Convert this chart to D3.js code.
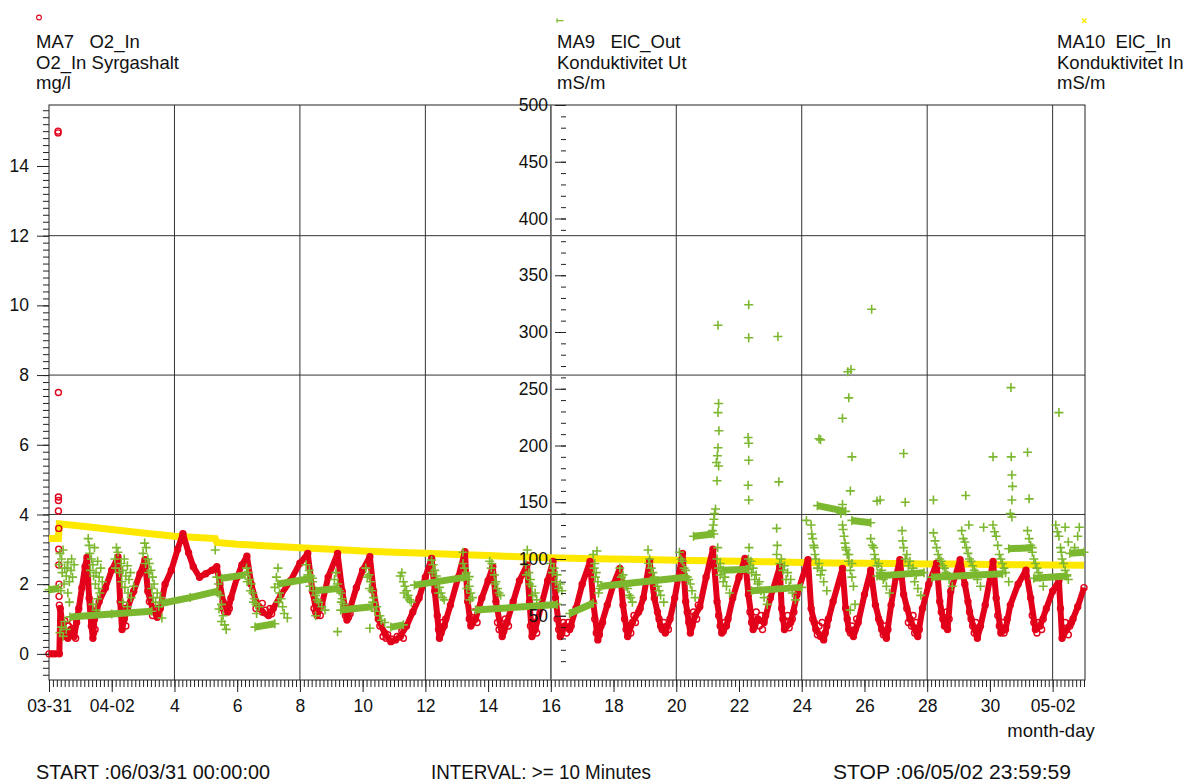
<!DOCTYPE html>
<html>
<head>
<meta charset="utf-8">
<script src="https://d3js.org/d3.v7.min.js"></script>
<style>
body { margin: 0; background: #fff; }
text { font-family: "Liberation Sans", Arial, sans-serif; font-size: 18.5px; fill: #111; }
.axis path { display: none; }
</style>
</head>
<body>
<svg width="1198" height="783"></svg>
<script>
// day = days after 06-03-31 00:00
const dayTicks = d3.range(0, 33, 2)
const dayTickLabels = ["03-31","04-02","4","6","8","10","12","14","16","18","20","22","24","26","28","30","05-02"]
const o2Ticks = [0, 2, 4, 6, 8, 10, 12, 14]
const condTicks = [50, 100, 150, 200, 250, 300, 350, 400, 450, 500]
const gridDays = [4, 8, 12, 16, 20, 24, 28, 32]
const gridO2 = [4, 8, 12]

const headers = [
  ["MA7   O2_In", "O2_In Syrgashalt", "mg/l"],
  ["MA9   ElC_Out", "Konduktivitet Ut", "mS/m"],
  ["MA10  ElC_In", "Konduktivitet In", "mS/m"]
]
const footer = ["START :06/03/31 00:00:00", "INTERVAL: >= 10 Minutes", "STOP :06/05/02 23:59:59"]

// MA7 O2_In (mg/l), start-up spike
const o2Spike = [[0.29,15],[0.29,14.95],[0.3,7.5],[0.3,4.5],[0.3,4.4],[0.3,4.1],[0.31,3.6],[0.31,3.0],[0.31,2.55],[0.32,2.0],[0.32,1.65],[0.33,1.4]]

// MA7 O2_In (mg/l), main trace
const o2In = [
  [0,0],[0.1,0],[0.2,0],[0.33,0],
  [0.36,1.3],[0.42,0.9],[0.5,0.6],[0.6,0.45],[0.7,0.7],[0.8,0.5],[0.88,0.9],
  [0.95,1.3],[1.05,1.9],[1.15,2.5],[1.21,2.77],
  [1.28,1.6],[1.35,0.8],[1.4,0.45],[1.45,1.0],
  [1.6,1.5],[1.8,1.9],[2.0,2.4],[2.2,2.78],
  [2.27,1.5],[2.33,0.7],[2.4,1.0],[2.5,1.3],
  [2.7,1.8],[2.9,2.3],[3.06,2.7],
  [3.15,1.8],[3.3,1.3],[3.45,1.05],[3.55,1.3],
  [3.7,2.0],[3.9,2.4],[4.1,3.0],[4.27,3.45],
  [4.45,2.9],[4.6,2.5],[4.8,2.2],[5.0,2.3],[5.2,2.4],[5.35,2.5],
  [5.45,2.0],[5.55,1.5],[5.7,1.2],[5.8,1.6],
  [6.0,2.2],[6.15,2.55],[6.31,2.8],
  [6.45,2.0],[6.6,1.5],[6.8,1.2],[7.0,1.1],[7.15,1.3],
  [7.4,1.7],[7.7,2.1],[8.0,2.6],[8.25,2.88],
  [8.4,1.8],[8.55,1.1],[8.7,1.4],
  [8.9,2.2],[9.2,2.88],
  [9.35,1.8],[9.5,0.97],[9.6,1.3],
  [9.8,1.9],[10.0,2.4],[10.23,2.79],
  [10.35,1.8],[10.5,1.0],[10.7,0.6],[10.9,0.35],[11.05,0.4],[11.2,0.5],[11.4,0.8],
  [11.6,1.2],[11.8,1.6],[12.0,2.2],[12.2,2.74],
  [12.3,1.8],[12.45,0.45],[12.6,0.8],
  [12.8,1.4],[13.05,2.2],[13.26,2.93],
  [13.35,1.5],[13.45,0.8],[13.6,1.0],
  [13.8,1.6],[14.0,2.1],[14.15,2.5],
  [14.25,1.5],[14.45,0.5],[14.6,0.9],
  [14.8,1.5],[15.0,2.1],[15.24,2.55],
  [15.32,1.5],[15.4,0.5],[15.5,0.7],
  [15.7,1.4],[15.9,2.1],[16.07,2.65],
  [16.15,1.6],[16.3,0.5],[16.45,0.8],[16.6,0.7],
  [16.8,1.3],[17.0,2.0],[17.25,2.65],
  [17.35,1.5],[17.5,0.4],[17.6,0.8],
  [17.8,1.4],[18.0,2.0],[18.2,2.45],
  [18.3,1.4],[18.45,0.5],[18.6,0.9],[18.8,1.2],
  [18.95,1.6],[19.15,2.65],
  [19.3,1.6],[19.5,0.8],[19.65,0.6],[19.8,1.0],
  [19.95,1.6],[20.2,2.88],
  [20.3,1.5],[20.45,0.6],[20.6,1.1],[20.75,1.35],
  [20.95,2.2],[21.17,3.0],
  [21.3,1.5],[21.45,0.6],[21.6,0.8],
  [21.8,1.6],[22.0,2.2],[22.19,2.74],
  [22.3,1.7],[22.45,0.7],[22.6,1.0],[22.8,0.9],
  [23.0,1.6],[23.3,2.5],
  [23.36,1.3],[23.45,0.7],[23.65,0.9],
  [23.85,1.7],[24.2,2.7],
  [24.3,1.3],[24.45,0.7],[24.7,0.4],[24.8,0.8],
  [25.0,1.5],[25.3,2.45],
  [25.4,1.3],[25.5,0.7],[25.65,0.5],[25.8,0.9],
  [26.0,1.7],[26.2,2.4],
  [26.35,1.4],[26.55,0.7],[26.7,0.45],
  [26.85,1.4],[27.0,2.2],[27.13,2.7],
  [27.25,1.7],[27.45,1.0],[27.7,0.5],
  [27.85,1.3],[28.05,2.0],[28.3,2.6],
  [28.4,1.5],[28.55,0.8],[28.65,0.7],
  [28.75,1.8],[29.05,2.7],
  [29.2,2.0],[29.4,1.0],[29.6,0.45],[29.7,0.8],
  [29.85,1.4],[30.1,2.65],
  [30.2,1.6],[30.35,0.6],[30.5,0.7],
  [30.65,1.4],[30.9,2.0],[31.15,2.4],
  [31.3,1.6],[31.45,0.7],[31.6,0.8],[31.8,1.3],
  [32.0,1.8],[32.2,2.1],
  [32.25,1.3],[32.3,0.45],[32.45,0.7],[32.6,0.9],
  [32.8,1.35],[33.0,1.9]
]

// MA7 O2_In (mg/l), readings clustered in the daily lows
const o2Lows = [
  [0.4,0.5],[0.45,0.8],[0.5,0.95],[0.55,0.5],[0.62,0.8],[0.68,0.55],[0.75,0.9],[0.8,0.65],[0.85,0.45],
  [1.33,1.3],[1.38,1.2],[1.42,0.6],[1.47,0.7],[1.5,1.2],
  [2.3,1.2],[2.35,0.9],[2.42,1.3],[2.45,0.8],
  [3.2,1.5],[3.3,1.1],[3.38,1.25],[3.45,1.3],[3.5,1.15],
  [5.55,1.3],[5.6,1.2],[5.65,1.4],[5.75,1.3],
  [6.6,1.3],[6.7,1.35],[6.8,1.45],[6.9,1.25],[7.05,1.3],[7.1,1.15],
  [8.45,1.3],[8.5,1.2],[8.6,1.25],[8.65,1.1],
  [9.4,1.3],[9.45,1.1],[9.55,1.05],[9.6,1.15],
  [10.55,0.8],[10.65,0.5],[10.75,0.45],[10.8,0.55],[10.95,0.42],[11.1,0.5],[11.25,0.65],[11.3,0.45],
  [12.38,1.1],[12.42,0.7],[12.5,0.6],[12.55,0.9],[12.65,1.0],
  [13.4,1.0],[13.5,0.9],[13.55,1.2],[13.65,0.9],
  [14.3,0.9],[14.35,0.7],[14.4,0.8],[14.5,0.65],[14.55,1.0],[14.65,0.8],
  [15.35,0.8],[15.45,0.65],[15.5,0.9],[15.55,0.6],
  [16.2,1.0],[16.25,0.7],[16.35,0.6],[16.4,0.9],[16.5,0.6],[16.55,0.9],[16.65,0.8],
  [17.4,1.0],[17.45,0.6],[17.55,0.55],[17.65,0.9],
  [18.35,1.0],[18.4,0.7],[18.5,0.8],[18.55,0.6],[18.65,1.1],[18.7,0.9],[18.85,1.3],
  [19.4,1.2],[19.45,1.0],[19.55,0.7],[19.6,0.9],[19.7,0.8],[19.75,0.7],
  [20.35,1.2],[20.4,0.9],[20.5,0.8],[20.55,1.2],[20.65,1.0],[20.7,1.4],
  [21.35,1.1],[21.4,0.8],[21.5,0.65],[21.55,0.9],[21.65,1.0],
  [22.35,1.2],[22.4,0.9],[22.5,0.8],[22.55,1.2],[22.65,0.8],[22.7,1.1],[22.75,0.7],[22.85,1.1],
  [23.4,1.0],[23.5,0.9],[23.55,1.1],[23.6,0.75],[23.7,1.0],[23.75,1.2],
  [24.35,1.0],[24.4,0.9],[24.5,0.55],[24.55,0.8],[24.6,0.5],[24.65,0.9],[24.75,0.6],[24.85,1.0],
  [25.45,1.0],[25.55,0.6],[25.6,0.8],[25.7,0.7],[25.75,1.0],
  [26.45,1.0],[26.5,0.9],[26.6,0.55],[26.65,0.8],[26.75,0.7],
  [27.35,1.3],[27.4,0.9],[27.5,0.8],[27.55,1.1],[27.6,0.6],[27.65,0.9],[27.75,0.7],
  [28.45,1.2],[28.5,1.0],[28.6,0.9],[28.62,1.2],[28.7,1.0],
  [29.3,1.5],[29.35,1.2],[29.45,0.8],[29.5,0.6],[29.55,0.9],[29.65,0.7],
  [30.25,1.1],[30.3,0.8],[30.4,0.9],[30.45,0.6],[30.55,1.0],
  [31.35,1.1],[31.4,0.9],[31.5,0.6],[31.55,0.9],[31.65,0.7],[31.7,1.0],
  [32.35,0.6],[32.4,0.9],[32.5,0.55],[32.55,0.8],[32.65,1.0]
]

// MA9 ElC_Out (mS/m), dense baseline runs; null separates runs
const elcOutBase = [
  [0,73],[0.3,74],[0,null],
  [0.67,49],[2,51.5],[3.28,54],[0,null],
  [3.6,61],[4.5,66],[5.35,71.5],[0,null],
  [5.5,83],[6.25,86],[0,null],
  [6.57,40],[7.2,43],[0,null],
  [7.3,78],[8.4,83],[0,null],
  [8.5,72],[9.2,74],[0,null],
  [9.3,55],[10.3,58],[0,null],
  [10.9,40],[11.3,42],[0,null],
  [11.65,77],[13.4,84.5],[0,null],
  [13.6,55],[16.2,60],[0,null],
  [16.6,52],[17.35,61],[0,null],
  [17.6,76],[20.3,84],[0,null],
  [20.55,120],[21.2,122],[0,null],
  [21.5,90],[22.3,91],[0,null],
  [22.4,72],[24.0,75],[0,null],
  [24.5,147],[25.4,142],[0,null],
  [25.6,134],[26.2,132],[0,null],
  [26.4,85],[27.9,88],[0,null],
  [28.15,84],[30.4,87],[0,null],
  [30.6,109],[31.35,110],[0,null],
  [31.4,83],[32.45,85],[0,null],
  [32.55,105],[33,106]
]

// MA9 ElC_Out (mS/m), scattered readings
const elcOutScatter = [
  [0.32,95],[0.35,105],[0.4,100],[0.42,88],[0.45,108],[0.5,92],[0.55,85],[0.6,97],[0.65,80],[0.7,90],[0.75,84],
  [0.35,35],[0.4,40],[0.45,32],[0.5,45],[0.55,38],[0.6,70],[0.65,62],
  [1.25,118],[1.28,112],[1.3,105],[1.35,100],[1.4,95],[1.45,110],[1.5,88],[1.55,98],[1.6,84],[1.65,92],[1.7,80],[1.4,60],[1.5,55],[1.55,65],
  [2.1,100],[2.15,110],[2.2,106],[2.3,96],[2.35,90],[2.4,100],[2.45,85],[2.5,94],[2.55,82],[2.6,88],[2.7,76],[2.35,62],[2.5,58],
  [3.0,105],[3.05,114],[3.1,110],[3.15,100],[3.2,96],[3.25,90],[3.3,84],[3.35,78],[3.45,70],[3.55,66],[3.5,58],[3.6,48],
  [5.3,108],[5.35,84],[5.4,78],[5.45,68],[5.5,60],[5.55,50],[5.6,42],[5.65,38],
  [6.3,92],[6.35,88],[6.4,82],[6.45,78],[6.5,70],[6.55,65],[6.6,60],[6.7,58],
  [7.3,92],[7.2,75],[7.35,70],[7.4,65],[7.5,52],[7.6,48],
  [8.2,95],[8.3,90],[8.35,85],[8.4,80],[8.5,68],[8.6,62],[8.7,58],[8.8,55],[8.5,50],
  [9.1,82],[9.2,78],[9.3,70],[9.35,65],[9.4,60],[9.2,36],
  [10.1,92],[10.2,86],[10.25,80],[10.3,72],[10.35,66],[10.45,58],[10.55,50],[10.6,46],[10.7,44],[10.23,39],
  [11.2,85],[11.3,80],[11.35,76],[11.4,72],[11.45,68],[11.5,64],[11.55,62],
  [12.2,99],[12.25,95],[12.3,90],[12.35,85],[12.4,80],[12.45,75],[12.5,70],[12.55,66],[12.6,64],
  [13.2,106],[13.2,96],[13.25,92],[13.3,88],[13.35,82],[13.4,76],[13.45,70],[13.5,66],
  [14.05,98],[14.1,92],[14.2,86],[14.25,80],[14.3,74],[14.4,68],
  [15.25,108],[15.2,95],[15.3,88],[15.35,82],[15.4,76],[15.5,70],[15.55,64],
  [16.0,96],[16.1,92],[16.2,86],[16.3,78],[16.35,72],
  [17.47,107],[17.35,104],[17.4,96],[17.45,88],[17.5,80],[17.55,74],
  [18.2,92],[18.3,86],[18.35,80],[18.45,74],[18.5,68],[18.6,62],
  [19.1,108],[19.15,100],[19.2,92],[19.3,84],[19.4,76],[19.5,68],[19.6,62],
  [20.1,106],[20.2,98],[20.3,90],[20.4,82],[20.5,72],[20.6,66],
  [21.15,125],[21.18,130],[21.2,135],[21.22,140],[21.25,144],
  [21.3,100],[21.35,92],[21.4,86],[21.5,80],[21.6,76],[21.7,70],
  [22.3,100],[22.35,94],[22.4,88],[22.5,82],[22.6,78],[22.7,72],[22.8,66],[22.9,60],
  [23.2,104],[23.3,96],[23.4,90],[23.5,82],[23.6,76],[23.7,70],[23.8,64],
  [24.3,130],[24.35,118],[24.4,110],[24.45,100],[24.5,92],[24.6,86],[24.7,80],[24.8,72],
  [25.25,140],[25.3,130],[25.35,120],[25.4,110],[25.45,104],[25.5,98],[25.55,90],[25.6,84],[25.65,76],[25.7,60],[25.55,55],
  [26.2,118],[26.3,110],[26.35,100],[26.4,94],[26.5,88],[26.6,82],[26.7,76],[26.8,70],
  [27.2,125],[27.25,110],[27.3,100],[27.4,94],[27.5,88],[27.6,80],[27.7,74],[27.8,68],
  [28.2,123],[28.3,110],[28.4,100],[28.5,94],[28.6,88],[28.7,82],[28.8,76],
  [29.1,125],[29.2,115],[29.3,105],[29.4,98],[29.5,90],[29.6,82],[29.7,76],
  [30.1,130],[30.2,120],[30.3,104],[30.4,96],[30.5,88],[30.6,80],
  [30.65,140],[30.7,152],[30.72,164],[30.7,174],
  [31.2,125],[31.3,112],[31.4,100],[31.5,92],[31.6,84],[31.7,76],
  [32.1,130],[32.2,120],[32.25,110],[32.3,100],[32.4,90],[32.5,82],
  [32.7,110],[32.8,120],[32.85,128],
  [21.33,306],[21.35,237],[21.33,229],[21.36,213],[21.33,198],[21.31,191],[21.28,185],[21.35,182],[21.3,169],
  [22.31,324],[22.31,295],[22.29,207],[22.31,202],[22.31,187],[22.29,165],[22.31,152],
  [23.24,296],[23.27,168],[23.2,127],[24.15,134],[24.6,205],[24.55,206],
  [25.3,224],[25.47,265],[25.57,267],[25.5,242],[25.6,190],[25.55,160],[25.3,148],
  [26.23,320],[26.4,151],[26.5,152],[27.25,193],[27.3,150],[28.2,152],
  [29.23,156],[29.33,130],[29.8,128],[30.1,190],[30.67,251],[30.68,190],[30.7,137],
  [31.2,194],[31.25,153],[32.2,229],[32.4,128],[32.5,115]
]

// MA9 ElC_Out (mS/m), more readings inside the daily clusters
const elcOutCluster = [
  [0.38,72],[0.48,78],[0.58,92],[0.72,100],[0.8,95],
  [1.32,90],[1.42,85],[1.48,78],[1.58,74],[1.62,70],
  [2.12,92],[2.25,88],[2.32,80],[2.42,75],[2.52,70],[2.62,66],
  [3.08,96],[3.18,88],[3.28,74],[3.32,66],[3.4,62],
  [5.38,70],[5.42,56],[5.5,45],
  [6.32,80],[6.42,72],[6.52,62],[6.62,52],
  [7.25,84],[7.32,62],[7.45,58],
  [8.25,86],[8.32,76],[8.42,72],[8.55,64],
  [9.15,88],[9.25,72],[9.32,62],
  [10.15,84],[10.22,74],[10.32,62],[10.4,54],
  [11.25,88],[11.32,70],[11.42,66],
  [12.22,88],[12.32,78],[12.42,70],
  [13.22,84],[13.32,74],[13.42,64],
  [14.12,96],[14.22,78],[14.35,70],
  [15.22,86],[15.32,78],[15.42,68],
  [16.05,88],[16.15,80],[16.25,74],
  [17.38,92],[17.42,84],[17.52,70],
  [18.25,84],[18.4,76],[18.55,66],
  [19.12,96],[19.25,88],[19.35,80],[19.45,72],
  [20.15,100],[20.25,92],[20.35,84],[20.45,78],
  [21.32,110],[21.4,96],[21.45,90],[21.55,84],
  [22.32,110],[22.38,98],[22.45,92],[22.55,86],[22.65,80],
  [23.22,112],[23.35,100],[23.45,94],[23.55,88],[23.65,82],
  [24.32,122],[24.38,112],[24.42,104],[24.55,96],[24.65,90],
  [25.32,126],[25.38,114],[25.42,108],[25.5,104],[25.6,96],
  [26.25,112],[26.32,104],[26.45,96],[26.55,90],[26.65,84],
  [27.22,116],[27.35,104],[27.45,98],[27.55,92],[27.65,86],
  [28.25,116],[28.35,104],[28.45,98],[28.55,92],[28.65,86],
  [29.15,118],[29.25,110],[29.35,100],[29.45,94],[29.55,88],
  [30.15,124],[30.25,112],[30.35,100],[30.45,92],
  [31.25,118],[31.35,106],[31.45,96],[31.55,88],
  [32.15,124],[32.28,106],[32.35,96],[32.45,86]
]

// MA10 ElC_In (mS/m)
const elcIn = [
  [0,118],[0.3,118],[0.33,131],[1,129],[2,126],[3,123],[4,120],[5,118.5],[5.3,118],[5.35,114.5],
  [6,113],[7,111.5],[8,110],[9,108.5],[10,107],[11,106],[12,105],[13,104],[14,103],[15,102],
  [16,101],[17,100.5],[18,100],[19,99.5],[20,99],[21,98.5],[22,98],[23,97.5],[24,97],[25,96.5],
  [26,96.2],[27,96],[28,95.7],[29,95.5],[30,95.2],[31,95],[32,94.8],[33,94.6]
]

const red = "#e2001a", green = "#7cb82f", yellow = "#ffe800"
const svg = d3.select("svg")

const x = d3.scaleLinear().domain([0, 33]).range([49, 1084])
const yL = d3.scaleLinear().domain([-0.75, 15.75]).range([680, 105])
const yM = d3.scaleLinear().domain([-6.6, 500]).range([680, 105])

// grid
svg.append("g").selectAll("line").data(gridDays).join("line")
  .attr("x1", d => x(d)).attr("x2", d => x(d)).attr("y1", 105).attr("y2", 680)
  .attr("stroke", "#333")
svg.append("g").selectAll("line").data(gridO2).join("line")
  .attr("x1", 49).attr("x2", 1085).attr("y1", d => yL(d)).attr("y2", d => yL(d))
  .attr("stroke", "#333")
svg.append("rect").attr("x", 49).attr("y", 105).attr("width", 1036).attr("height", 575)
  .attr("fill", "none").attr("stroke", "#222")
svg.append("line").attr("x1", x(16)).attr("x2", x(16)).attr("y1", 105).attr("y2", 680)
  .attr("stroke", "#666").attr("stroke-width", 1.6)

// MA10 yellow band
svg.append("path").datum(elcIn)
  .attr("d", d3.line().x(d => x(d[0])).y(d => yM(d[1])))
  .attr("fill", "none").attr("stroke", yellow).attr("stroke-width", 7)

// MA7 red
svg.append("path").datum(o2In)
  .attr("d", d3.line().x(d => x(d[0])).y(d => yL(d[1])))
  .attr("fill", "none").attr("stroke", red).attr("stroke-width", 6).attr("stroke-linejoin", "round")
svg.append("g").selectAll("circle").data(o2In.concat(o2Lows, o2Spike)).join("circle")
  .attr("cx", d => x(d[0])).attr("cy", d => yL(d[1])).attr("r", 3)
  .attr("fill", "none").attr("stroke", red).attr("stroke-width", 1.4)

// MA9 green
const plus = "M-4.5,0H4.5M0,-4.5V4.5"
svg.append("path").datum(elcOutBase)
  .attr("d", d3.line().defined(d => d[1] != null).x(d => x(d[0])).y(d => yM(d[1])))
  .attr("fill", "none").attr("stroke", green).attr("stroke-width", 7)
svg.append("g").selectAll("path")
  .data(elcOutBase.filter(d => d[1] != null).concat(elcOutScatter, elcOutCluster)).join("path")
  .attr("d", plus).attr("transform", d => `translate(${x(d[0])},${yM(d[1])})`)
  .attr("stroke", green).attr("stroke-width", 1.6)

// left axis
svg.append("g").attr("class", "axis").attr("transform", "translate(49,0)")
  .call(d3.axisLeft(yL).tickValues(d3.range(-3, 79).map(i => i * 0.2)).tickSize(6).tickFormat(""))
svg.append("g").attr("class", "axis").attr("transform", "translate(49,0)")
  .call(d3.axisLeft(yL).tickValues(o2Ticks).tickSize(12).tickPadding(8))

// middle axis
svg.append("g").attr("class", "axis").attr("transform", "translate(566,0)")
  .call(d3.axisLeft(yM).tickValues(d3.range(1, 51).map(i => i * 10)).tickSize(5).tickFormat(""))
svg.append("g").attr("class", "axis").attr("transform", "translate(566,0)")
  .call(d3.axisLeft(yM).tickValues(condTicks).tickSize(11).tickPadding(7))

// bottom axis
svg.append("g").attr("class", "axis").attr("transform", "translate(0,680)")
  .call(d3.axisBottom(x).tickValues(d3.range(0, 265).map(i => i / 8)).tickSize(7).tickFormat(""))
svg.append("g").attr("class", "axis").attr("transform", "translate(0,680)")
  .call(d3.axisBottom(x).tickValues(dayTicks).tickSize(12).tickPadding(8).tickFormat((d, i) => dayTickLabels[i]))

svg.selectAll(".axis text").style("font-size", "17.5px").attr("fill", "#111")
svg.selectAll(".axis line").attr("stroke", "#222")

svg.append("text").attr("x", 1051).attr("y", 737).attr("text-anchor", "middle").text("month-day")

// headers
const headX = [36, 557, 1057]
headers.forEach((lines, i) => {
  lines.forEach((t, j) => {
    svg.append("text").attr("x", headX[i]).attr("y", 48 + j * 20.7)
      .style("white-space", "pre").attr("xml:space", "preserve").text(t)
  })
})
svg.append("circle").attr("cx", 39).attr("cy", 17.5).attr("r", 2.4)
  .attr("fill", "none").attr("stroke", red).attr("stroke-width", 1.1)
svg.append("path").attr("d", "M557,18.3V22.8M557,20.6H563.5").attr("stroke", green).attr("stroke-width", 1.2)
svg.append("path").attr("d", "M1082,18.5L1086.5,23M1086.5,18.5L1082,23").attr("stroke", yellow).attr("stroke-width", 1.3)

// footer, narrow type squeezed to the original widths
const footX = [36, 431, 833], footW = [234, 220, 238]
footer.forEach((t, i) => {
  svg.append("text").attr("x", footX[i]).attr("y", 779)
    .attr("textLength", footW[i]).attr("lengthAdjust", "spacingAndGlyphs")
    .style("font-family", "'Liberation Sans Narrow', 'Liberation Sans', Arial, sans-serif")
    .style("font-size", "20.5px").text(t)
})
</script>
</body>
</html>
